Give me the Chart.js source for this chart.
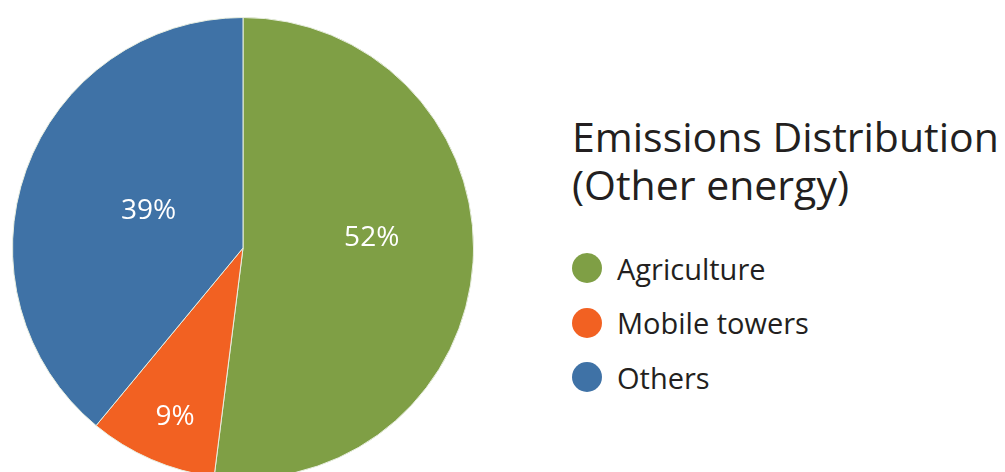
<!DOCTYPE html>
<html lang="en">
<head>
    <meta charset="UTF-8">
    <title>Emissions Distribution (Other energy)</title>
    <style>
        html, body {
            margin: 0;
            padding: 0;
            width: 1005px;
            height: 472px;
            overflow: hidden;
            background: #fff;
            font-family: "Open Sans", "Noto Sans", Arial, sans-serif;
            color: #231f20;
        }
        #pie-box {
            position: absolute;
            left: 12px;
            top: 17px;
            width: 462px;
            height: 462px;
        }
        #title {
            position: absolute;
            left: 572px;
            top: 112px;
            font-size: 41px;
            line-height: 48px;
            white-space: nowrap;
        }
        #legend {
            position: absolute;
            left: 572px;
            top: 241px;
            margin: 0;
            padding: 0;
            list-style: none;
        }
        #legend li {
            display: flex;
            align-items: center;
            height: 54.5px;
            font-size: 29px;
            white-space: nowrap;
        }
        #legend .dot {
            width: 30px;
            height: 30px;
            border-radius: 50%;
            margin-right: 15px;
        }
    </style>
    <script src="https://cdn.jsdelivr.net/npm/chart.js"></script>
</head>
<body>
    <div id="pie-box">
        <canvas id="pie"></canvas>
    </div>
    <div id="title">Emissions Distribution<br>(Other energy)</div>
    <ul id="legend"></ul>

    <script>
        // data
        const categories = ['Agriculture', 'Mobile towers', 'Others'];
        const shares = [52, 9, 39];
        const colors = ['#7f9f45', '#f26122', '#3f72a6'];

        // where each % label sits: fraction of radius, and a small turn (degrees) off the slice middle
        const labelRadius = [0.56, 0.79, 0.44];
        const labelTurn = [-8, -1.5, 1.5];

        // build the legend
        const legend = document.getElementById('legend');
        categories.forEach((name, i) => {
            const li = document.createElement('li');
            const dot = document.createElement('span');
            dot.className = 'dot';
            dot.style.background = colors[i];
            li.appendChild(dot);
            li.appendChild(document.createTextNode(name));
            legend.appendChild(li);
        });

        // draws "52%" etc inside each slice
        const pctLabels = {
            id: 'pctLabels',
            afterDatasetsDraw(chart) {
                const ctx = chart.ctx;
                const arcs = chart.getDatasetMeta(0).data;
                ctx.save();
                ctx.fillStyle = '#fff';
                ctx.font = '28px "Open Sans", "Noto Sans", sans-serif';
                ctx.textAlign = 'center';
                ctx.textBaseline = 'middle';
                arcs.forEach((arc, i) => {
                    const p = arc.getProps(['x', 'y', 'startAngle', 'endAngle', 'outerRadius'], true);
                    const mid = (p.startAngle + p.endAngle) / 2 + labelTurn[i] * Math.PI / 180;
                    const r = p.outerRadius * labelRadius[i];
                    ctx.fillText(shares[i] + '%', p.x + Math.cos(mid) * r, p.y + Math.sin(mid) * r);
                });
                ctx.restore();
            }
        };

        new Chart(document.getElementById('pie'), {
            type: 'pie',
            data: {
                labels: categories,
                datasets: [{
                    data: shares,
                    backgroundColor: colors,
                    borderColor: '#e8eee0',
                    borderWidth: 1
                }]
            },
            options: {
                responsive: true,
                maintainAspectRatio: false,
                animation: false,
                layout: { padding: 0 },
                plugins: {
                    legend: { display: false },
                    tooltip: { enabled: false }
                }
            },
            plugins: [pctLabels]
        });
    </script>
</body>
</html>
